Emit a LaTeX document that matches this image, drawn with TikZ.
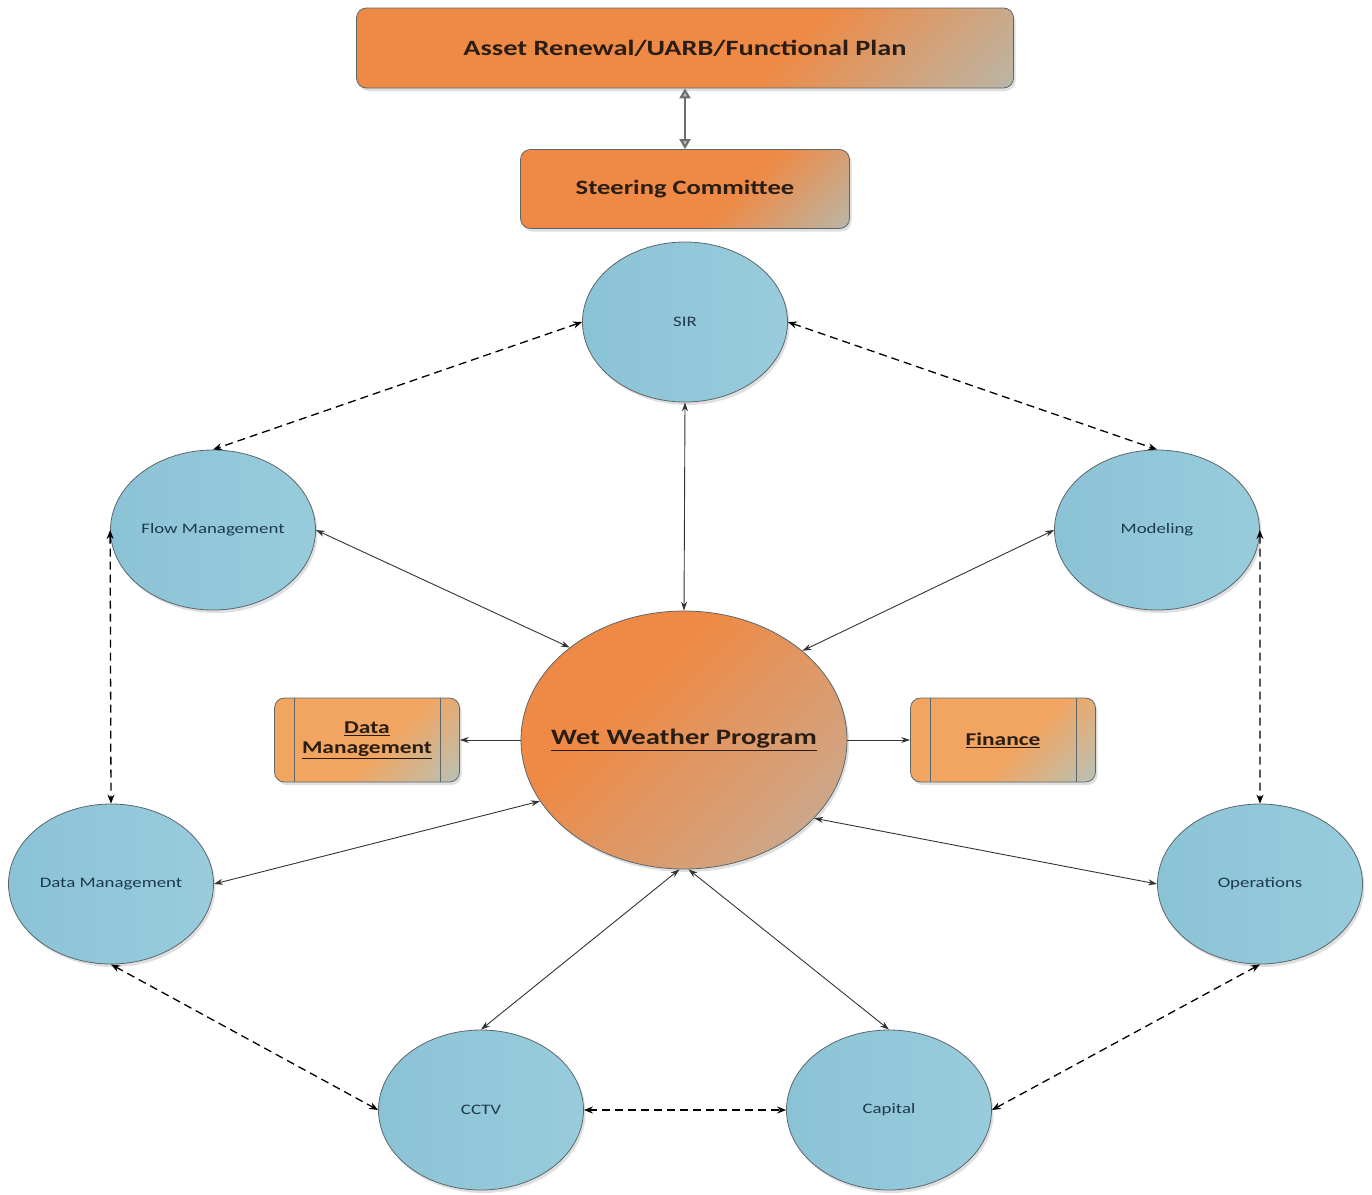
\documentclass[tikz,border=0pt]{standalone}
\usepackage{fontspec}
\setmainfont{Carlito}[FakeStretch=1.3]
\usetikzlibrary{arrows.meta,shapes.geometric,shadows}

\definecolor{planorange}{HTML}{EE8A45}
\definecolor{planblue}{HTML}{9CCFDF}
\definecolor{sideorange}{HTML}{F2A560}
\definecolor{hubmid}{HTML}{D3A27E}
\definecolor{hubblue}{HTML}{A9C3C8}
\definecolor{bubbleleft}{HTML}{8BC3D6}
\definecolor{bubbleright}{HTML}{98CCDC}
\definecolor{bubbletext}{HTML}{1E3A4E}
\definecolor{boxtext}{HTML}{2A1E14}
\definecolor{rimgray}{HTML}{5C676C}
\definecolor{linkgray}{HTML}{333333}

\pgfdeclarehorizontalshading{planshade}{100bp}{color(0bp)=(planorange); color(60bp)=(planorange); color(100bp)=(planblue)}
\pgfdeclarehorizontalshading{sideshade}{100bp}{color(0bp)=(sideorange); color(55bp)=(sideorange); color(100bp)=(planblue)}
\pgfdeclarehorizontalshading{hubshade}{100bp}{color(0bp)=(planorange); color(38bp)=(planorange); color(70bp)=(hubmid); color(100bp)=(hubblue)}

\begin{document}
\begin{tikzpicture}[x=1pt, y=-1pt,
	planbox/.style={rectangle, rounded corners=10pt, draw=rimgray, line width=0.8pt,
		shading=planshade, shading angle=-45, text=boxtext, font=\fontsize{21.8}{26}\selectfont\bfseries,
		drop shadow={shadow xshift=2pt, shadow yshift=-3pt, opacity=0.25}},
	sidebox/.style={rectangle, rounded corners=10pt, draw=rimgray, line width=0.8pt,
		shading=sideshade, shading angle=-45, text=boxtext, align=center,
		minimum width=185pt, minimum height=84pt, font=\fontsize{18}{20}\selectfont\bfseries,
		drop shadow={shadow xshift=2pt, shadow yshift=-3pt, opacity=0.25}},
	bubble/.style={ellipse, draw=rimgray, line width=0.8pt, left color=bubbleleft, right color=bubbleright,
		minimum width=205pt, minimum height=160pt, inner sep=0pt,
		drop shadow={shadow xshift=2pt, shadow yshift=-3pt, opacity=0.25}},
	bubbletag/.style={text=bubbletext, font=\fontsize{14.5}{17}\selectfont},
	hub/.style={ellipse, draw=rimgray, line width=0.8pt, shading=hubshade, shading angle=-45,
		minimum width=326pt, minimum height=258pt, inner sep=0pt,
		drop shadow={shadow xshift=2pt, shadow yshift=-3pt, opacity=0.25}},
	hubtag/.style={text=boxtext, font=\fontsize{22}{26}\selectfont\bfseries},
	solidlink/.style={linkgray, line width=0.9pt, {Stealth[length=9pt,width=6pt]}-{Stealth[length=9pt,width=6pt]}},
	dashlink/.style={black, line width=1.3pt, dash pattern=on 8pt off 5pt,
		{Stealth[length=9pt,width=7pt]}-{Stealth[length=9pt,width=7pt]}},
	]
	\fill[white] (0,0) rectangle (1372,1194);
	\useasboundingbox (0,0) rectangle (1372,1194);

	% plan and committee
	\node[planbox, minimum width=657pt, minimum height=80pt] (plan) at (685,48) {Asset Renewal/UARB/Functional Plan};
	\node[planbox, minimum width=329pt, minimum height=79pt, font=\fontsize{20.4}{24}\selectfont\bfseries] (steer) at (685,189) {Steering Committee};
	\draw[gray!85!black, line width=2pt, {Triangle[length=10pt,width=11pt,fill=gray!55]}-{Triangle[length=10pt,width=11pt,fill=gray!55]}] (plan) -- (steer);

	% program and teams
	\node[hub, label={[hubtag]center:\underline{Wet Weather Program}}] (wwp) at (684,740) {};
	\node[bubble, label={[bubbletag]center:SIR}] (sir) at (685,322) {};
	\node[bubble, label={[bubbletag]center:Flow Management}] (flow) at (213,530) {};
	\node[bubble, label={[bubbletag]center:Modeling}] (model) at (1157,530) {};
	\node[bubble, label={[bubbletag]center:Data Management}] (datam) at (111,884) {};
	\node[bubble, label={[bubbletag]center:Operations}] (ops) at (1260,884) {};
	\node[bubble, label={[bubbletag]center:CCTV}] (cctv) at (481,1110) {};
	\node[bubble, label={[bubbletag]center:Capital}] (capital) at (889,1110) {};

	\node[sidebox] (databox) at (367,740) {\underline{Data}\\\underline{Management}};
	\node[sidebox] (finbox) at (1003,740) {\underline{Finance}};
	\foreach \b in {databox, finbox} {
		\draw[rimgray, line width=0.8pt] ([xshift=20pt]\b.north west) -- ([xshift=20pt]\b.south west);
		\draw[rimgray, line width=0.8pt] ([xshift=-20pt]\b.north east) -- ([xshift=-20pt]\b.south east);
	}

	% solid links to the program
	\foreach \a/\b in {sir.south/wwp.north, flow.east/wwp.141, model.west/wwp.37,
		datam.east/wwp.203, ops.west/wwp.329, cctv.north/wwp.268, capital.north/wwp.272}
		\draw[solidlink] (\a) -- (\b);
	\draw[linkgray, line width=0.9pt, -{Stealth[length=9pt,width=6pt]}] (wwp.west) -- (databox.east);
	\draw[linkgray, line width=0.9pt, -{Stealth[length=9pt,width=6pt]}] (wwp.east) -- (finbox.west);

	% dashed ring
	\foreach \a/\b in {sir.west/flow.north, sir.east/model.north, flow.west/datam.north,
		model.east/ops.north, datam.south/cctv.west, cctv.east/capital.west, capital.east/ops.south}
		\draw[dashlink] (\a) -- (\b);
\end{tikzpicture}
\end{document}
